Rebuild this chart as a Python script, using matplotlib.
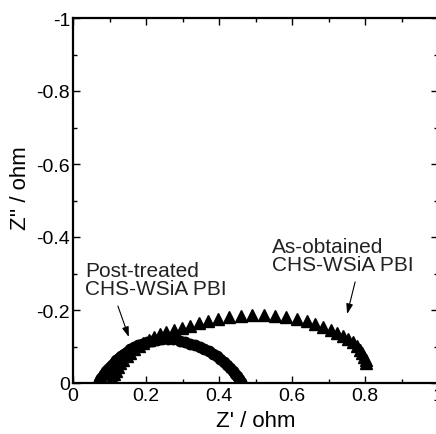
import matplotlib
matplotlib.use('Agg')
from matplotlib import pyplot as plt
from matplotlib.ticker import MultipleLocator

plt.rcParams['font.family'] = ['Liberation Sans', 'DejaVu Sans']

# As-obtained CHS-WSiA PBI (triangles)
tri_x = [0.104, 0.108, 0.112, 0.117, 0.123, 0.130, 0.138, 0.147, 0.157, 0.168,
         0.180, 0.193, 0.207, 0.222, 0.238, 0.256, 0.276, 0.298, 0.320, 0.344,
         0.370, 0.398, 0.428, 0.459, 0.490, 0.522, 0.553, 0.584, 0.614, 0.640,
         0.664, 0.686, 0.706, 0.724, 0.740, 0.754, 0.766, 0.777, 0.786, 0.793,
         0.798, 0.802, 0.804]
tri_y = [-0.004, -0.014, -0.024, -0.034, -0.044, -0.054, -0.064, -0.074, -0.083, -0.092,
         -0.101, -0.110, -0.118, -0.127, -0.135, -0.141, -0.146, -0.151, -0.157, -0.164,
         -0.170, -0.175, -0.180, -0.184, -0.185, -0.185, -0.183, -0.180, -0.175, -0.169,
         -0.162, -0.154, -0.146, -0.138, -0.129, -0.120, -0.111, -0.101, -0.091, -0.081,
         -0.071, -0.062, -0.054]

# Post-treated CHS-WSiA PBI (circles)
circ_x = [0.072, 0.075, 0.078, 0.082, 0.086, 0.090, 0.095, 0.100, 0.106, 0.112,
          0.118, 0.125, 0.132, 0.140, 0.148, 0.157, 0.167, 0.178, 0.190, 0.203,
          0.216, 0.230, 0.245, 0.260, 0.275, 0.292, 0.306, 0.320, 0.335, 0.348,
          0.360, 0.372, 0.383, 0.394, 0.404, 0.413, 0.422, 0.430, 0.437, 0.444,
          0.450, 0.455, 0.459]
circ_y = [-0.002, -0.008, -0.014, -0.020, -0.026, -0.032, -0.038, -0.044, -0.050, -0.056,
          -0.062, -0.068, -0.074, -0.080, -0.086, -0.092, -0.098, -0.103, -0.108, -0.112,
          -0.115, -0.118, -0.120, -0.121, -0.120, -0.115, -0.112, -0.108, -0.104, -0.099,
          -0.093, -0.087, -0.080, -0.073, -0.066, -0.058, -0.050, -0.042, -0.034, -0.026,
          -0.018, -0.010, -0.003]

xticks = [0, 0.2, 0.4, 0.6, 0.8, 1.0]
xticklabels = ['0', '0.2', '0.4', '0.6', '0.8', '1']
yticks = [0, -0.2, -0.4, -0.6, -0.8, -1.0]
yticklabels = ['0', '-0.2', '-0.4', '-0.6', '-0.8', '-1']

fig = plt.figure(figsize=(4.36, 4.35), dpi=100)
ax = fig.add_axes([73 / 436, 51 / 435, 365 / 436, 365 / 435])

ax.plot(tri_x, tri_y, linestyle='none', marker='^', markersize=8.5, color='black')
ax.plot(circ_x, circ_y, linestyle='none', marker='o', markersize=7.5, color='black')

ax.set_xlim(0, 1)
ax.set_ylim(0, -1)
ax.set_xticks(xticks)
ax.set_xticklabels(xticklabels)
ax.set_yticks(yticks)
ax.set_yticklabels(yticklabels)
ax.xaxis.set_minor_locator(MultipleLocator(0.1))
ax.yaxis.set_minor_locator(MultipleLocator(0.1))
ax.tick_params(which='both', direction='in', top=True, right=True, labelsize=14)
ax.tick_params(which='major', length=5, width=1)
ax.tick_params(which='minor', length=3, width=1)
ax.tick_params(axis='x', pad=3)
ax.tick_params(axis='y', pad=2)
for s in ax.spines.values():
    s.set_linewidth(1.6)

ax.set_xlabel("Z' / ohm", fontsize=16)
ax.set_ylabel("Z'' / ohm", fontsize=16)
ax.xaxis.set_label_coords(0.5, -0.075)
ax.yaxis.set_label_coords(-0.115, 0.537)

arrow = dict(arrowstyle='-|>,head_length=0.6,head_width=0.2', color='black',
             lw=0.8, shrinkA=0, shrinkB=0)
ax.annotate('', xy=(0.153, -0.126), xytext=(0.123, -0.211), arrowprops=arrow)
ax.annotate('', xy=(0.751, -0.189), xytext=(0.773, -0.277), arrowprops=arrow)
ax.text(0.033, -0.334, 'Post-treated\nCHS-WSiA PBI', fontsize=15, va='top',
        ha='left', color='#222222', linespacing=0.95)
ax.text(0.545, -0.40, 'As-obtained\nCHS-WSiA PBI', fontsize=15, va='top',
        ha='left', color='#222222', linespacing=0.95)

fig.savefig('out.png', dpi=100)
